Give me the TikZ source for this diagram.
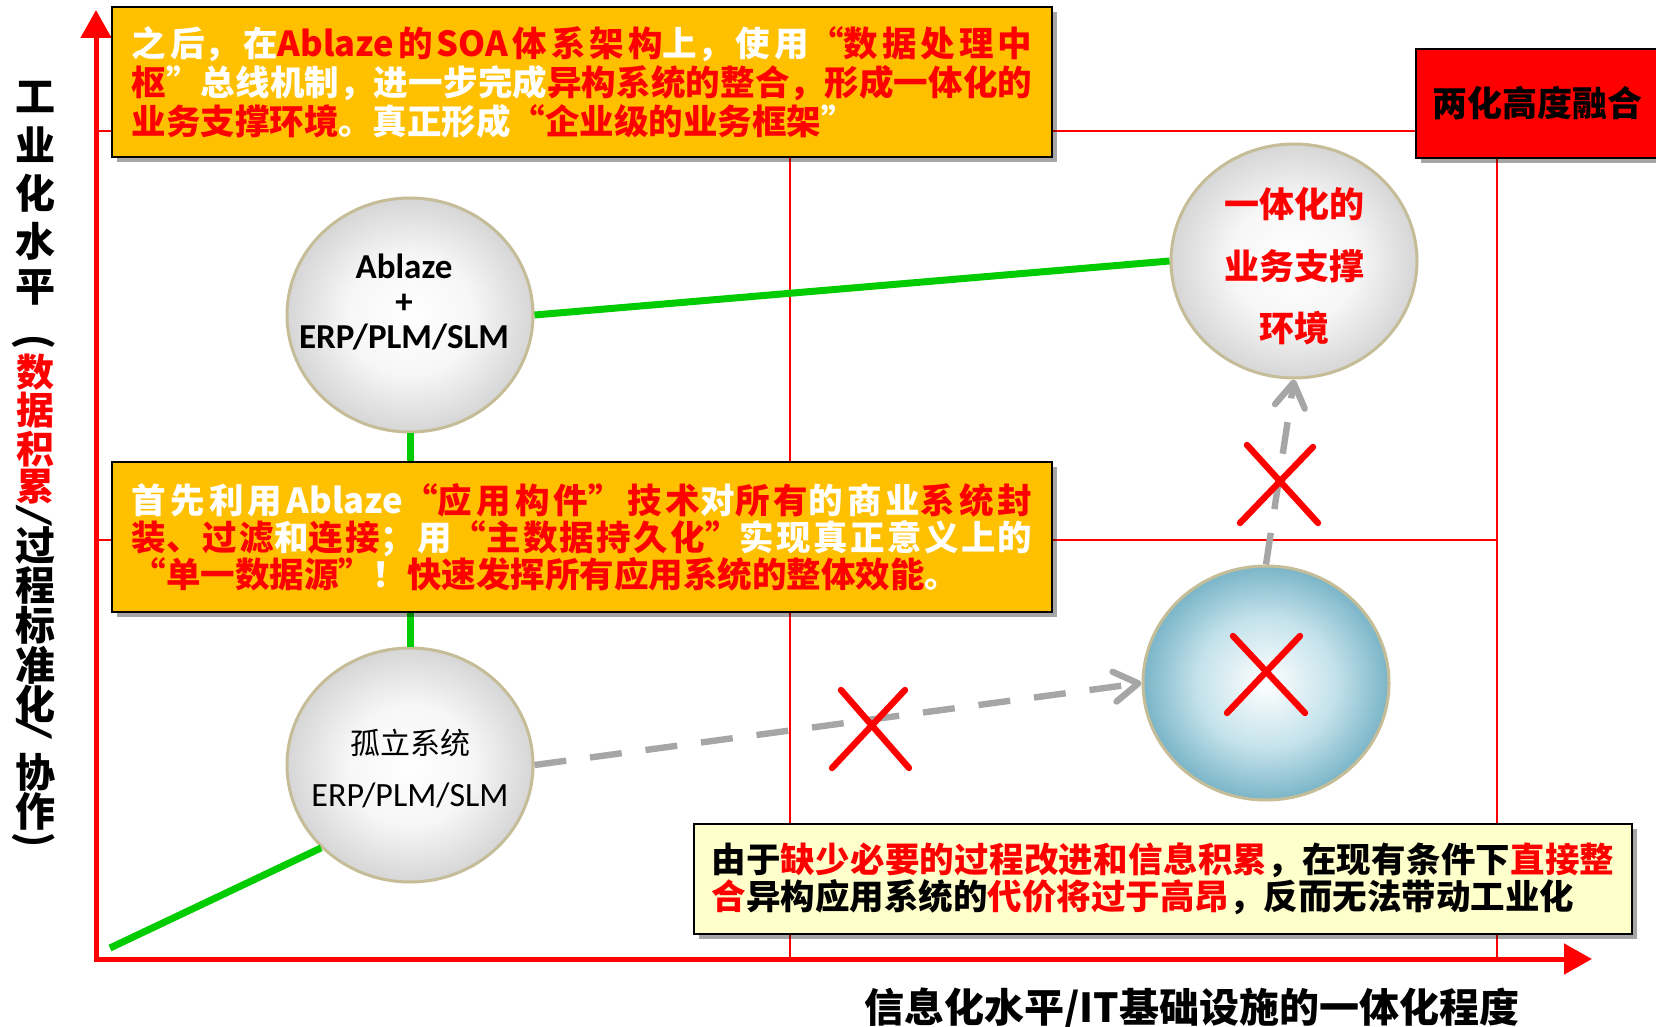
\documentclass[tikz,border=0pt]{standalone}
\usepackage{fontspec}
\setmainfont{Carlito}
\newfontfamily\cjk{Noto Sans CJK SC}
\usetikzlibrary{arrows.meta,shapes.geometric,shadows}
\XeTeXlinebreaklocale "zh"
\XeTeXlinebreakskip=0pt plus 4pt
\definecolor{axisred}{RGB}{255,0,0}
\definecolor{boxorange}{RGB}{255,192,0}
\definecolor{boxcream}{RGB}{255,255,204}
\definecolor{lgreen}{RGB}{0,204,0}
\definecolor{dashgray}{RGB}{166,166,166}
\definecolor{tanline}{RGB}{196,189,151}
\definecolor{ballgray}{RGB}{214,214,214}
\definecolor{ballmid}{RGB}{246,246,246}
\definecolor{ballblue}{RGB}{122,181,200}
\definecolor{bluemid}{RGB}{196,226,235}
\pgfdeclareradialshading{whiteballshade}{\pgfpoint{0bp}{0bp}}{color(0bp)=(white); color(13bp)=(ballmid); color(25bp)=(ballgray); color(50bp)=(ballgray)}
\pgfdeclareradialshading{blueballshade}{\pgfpoint{0bp}{0bp}}{color(0bp)=(white); color(14bp)=(bluemid); color(25bp)=(ballblue); color(50bp)=(ballblue)}
\newcommand{\wtxt}[1]{\textcolor{white}{#1}}
\newcommand{\rtxt}[1]{\textcolor{axisred}{#1}}
\begin{document}
\begin{tikzpicture}[x=0.5pt,y=-0.5pt,
  axis/.style={draw=axisred,line width=2.5pt},
  gridline/.style={draw=axisred,line width=1pt},
  greenline/.style={draw=lgreen,line width=3.5pt},
  dasharrow/.style={draw=dashgray,line width=3.2pt,dash pattern=on 16pt off 12pt,-{Straight Barb[length=12pt,width=15pt,line cap=round,line join=round]}},
  ball/.style={ellipse,draw=tanline,line width=1.5pt,minimum width=123pt,minimum height=117pt,inner sep=0pt,shading=whiteballshade},
  bluball/.style={ball,shading=blueballshade},
  txtbox/.style={draw=black,line width=1.2pt,align=justify,inner sep=0pt,font={\cjk\bfseries\fontsize{17.25pt}{19.5pt}\selectfont\parindent=0pt\tolerance=9999},drop shadow={shadow xshift=2.5pt,shadow yshift=-2.5pt,opacity=0.35,fill=black}},
  cross/.style={draw=axisred,line width=3.2pt,line cap=round},
  ylab/.style={font=\cjk\bfseries\fontsize{19pt}{19pt}\selectfont,inner sep=0pt},
]
\fill[white] (0,0) rectangle (1656,1027);
\useasboundingbox (0,0) rectangle (1656,1027);

% coordinates
\coordinate (O) at (96,959);
\coordinate (ytip) at (96,10);
\coordinate (xtip) at (1592,959);
\coordinate (g1a) at (96,131);  \coordinate (g1b) at (1416,131);
\coordinate (g2a) at (96,540);  \coordinate (g2b) at (1497,540);
\coordinate (v1a) at (790,131); \coordinate (v1b) at (790,959);
\coordinate (v2a) at (1497,158); \coordinate (v2b) at (1497,959);
\coordinate (gstart) at (110,948);

% grid
\draw[gridline] (g1a) -- (g1b);
\draw[gridline] (g2a) -- (g2b);
\draw[gridline] (v1a) -- (v1b);
\draw[gridline] (v2a) -- (v2b);

% axes
\draw[axis,{Triangle[length=14pt,width=15pt]}-{Triangle[length=14pt,width=15pt]}] (ytip) -- (O) -- (xtip);

% circles
\node[ball, label={[font=\bfseries\fontsize{17.5pt}{17.5pt}\selectfont, align=center, yshift=6.5pt, xshift=-3pt]center:{Ablaze\\+\\ERP/PLM/SLM}}] (abl) at (410,315) {};
\node[ball, label={[font=\cjk\bfseries\fontsize{17.5pt}{31pt}\selectfont, text=axisred, align=center, yshift=-2.5pt]center:{一体化的\\业务支撑\\环境}}] (uni) at (1294,261) {};
\node[ball, label={[font=\fontsize{17pt}{26pt}\selectfont, align=center, yshift=-2pt]center:{{\cjk\fontsize{15pt}{26pt}\selectfont 孤立系统}\\ERP/PLM/SLM}}] (iso) at (410,765) {};
\node[bluball] (blu) at (1266,683) {};

% green lines
\draw[greenline] (abl.east) -- (uni.west);
\draw[greenline] (abl.south) -- (iso.north);
\draw[greenline] (gstart) -- (iso.223);

% dashed arrows
\draw[dasharrow] (iso.east) -- (blu.west);
\draw[dasharrow] (blu.north) -- (uni.south);

% boxes
\node[txtbox, fill=boxorange, text width=450.5pt, minimum width=470pt, minimum height=75pt] (tb) at (582,82)
{\wtxt{之后，在}\rtxt{Ablaze的SOA体系架构}\wtxt{上，使用}\rtxt{“数据处理中}\linebreak
\rtxt{枢}\wtxt{”总线机制，进一步完成}\rtxt{异构系统的整合，形成一体化的}\linebreak
\rtxt{业务支撑环境}\wtxt{。真正形成}\rtxt{“企业级的业务框架}\wtxt{”}};

\node[txtbox, fill=boxorange, text width=450.5pt, minimum width=470pt, minimum height=75pt, font={\cjk\bfseries\fontsize{17.25pt}{18.5pt}\selectfont\parindent=0pt\tolerance=9999}] (mb) at (582,537)
{\wtxt{首先利用Ablaze}\rtxt{“应用构件”技术}\wtxt{对}\rtxt{所有}\wtxt{的商业}\rtxt{系统封}\linebreak
\rtxt{装、过滤}\wtxt{和}\rtxt{连接}\wtxt{；用}\rtxt{“主数据持久化”}\wtxt{实现真正意义上的}\linebreak
\rtxt{“单一数据源”}\wtxt{！}\rtxt{快速发挥所有应用系统的整体效能}\wtxt{。}};

\node[txtbox, fill=boxcream, text width=451.5pt, minimum width=469pt, minimum height=55pt, font={\cjk\bfseries\fontsize{17.25pt}{17.5pt}\selectfont\parindent=0pt\tolerance=9999}] (bb) at (1163,879)
{由于\rtxt{缺少必要的过程改进和信息积累}，在现有条件下\rtxt{直接整}\linebreak
\rtxt{合}异构应用系统的\rtxt{代价将过于高昂}，反而无法带动工业化};

\node[txtbox, fill=axisred, align=center, minimum width=121pt, minimum height=54.5pt, font=\cjk\bfseries\fontsize{17.5pt}{17.5pt}\selectfont] (rb) at (1537,103.5) {两化高度融合};

% crosses
\draw[cross] (841,690) -- (909,768);
\draw[cross] (905,690) -- (832,768);
\draw[cross] (1247,445) -- (1318,523);
\draw[cross] (1313,447) -- (1240,523);
\draw[cross] (1233,636) -- (1305,713);
\draw[cross] (1300,636) -- (1227,713);

% axis labels
\node[font=\cjk\bfseries\fontsize{20pt}{20pt}\selectfont] (xlab) at (1192,1009) {信息化水平/IT基础设施的一体化程度};

\foreach \yy/\cc [count=\i] in {97/工,145/业,193/化,241/水,287/平,546/过,585/程,625/标,665/准,704/化,772/协,811/作}
  \node[ylab, font=\cjk\bfseries\fontsize{20pt}{20pt}\selectfont] (yb\i) at (36,\yy) {\cc};
\foreach \yy/\cc [count=\i] in {372/数,410/据,449/积,487/累}
  \node[ylab, text=axisred] (yr\i) at (36,\yy) {\cc};
\node[ylab, rotate=-90, font=\bfseries\fontsize{24pt}{24pt}\selectfont] (yp1) at (34,342) {(};
\node[ylab, rotate=-90, font=\bfseries\fontsize{24pt}{24pt}\selectfont] (yp2) at (34,840) {)};
\node[ylab, rotate=-90, font=\bfseries\fontsize{24pt}{24pt}\selectfont] (ys1) at (34,516) {/};
\node[ylab, rotate=-90, font=\bfseries\fontsize{24pt}{24pt}\selectfont] (ys2) at (34,729) {/};
\end{tikzpicture}
\end{document}
